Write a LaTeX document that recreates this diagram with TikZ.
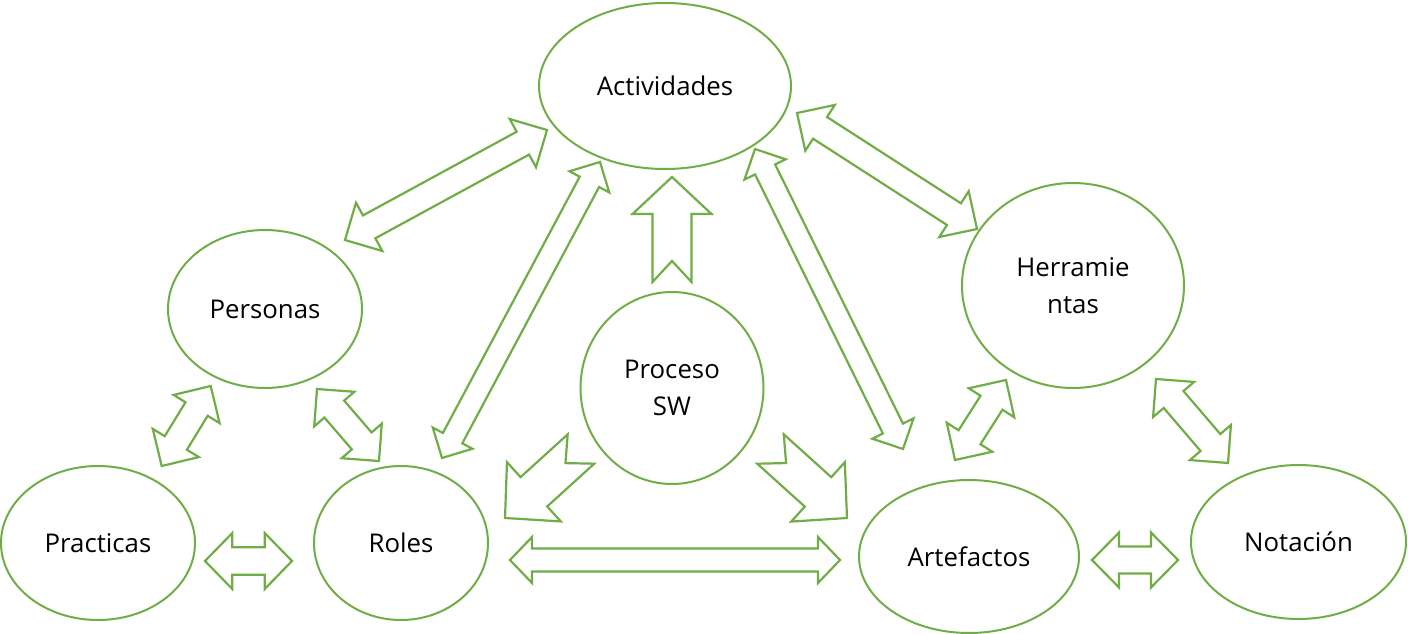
\documentclass[tikz,border=0pt]{standalone}
\usepackage{fontspec}
\setmainfont{Open Sans}
\usetikzlibrary{calc,shapes.geometric}
\definecolor{og}{HTML}{70AD47}
\tikzset{
 bub/.style={ellipse, draw=og, line width=2pt, inner sep=0pt, align=center, font=\fontsize{25.8}{37}\selectfont},
 barrow/.style={draw=og, line width=2.2pt, line join=miter}
}
% #1 tip A, #2 tip B, #3 shaft half width, #4 head half width, #5 head length
\newcommand\blockdbl[5]{%
 \coordinate (qa) at ($(#1)!#5!(#2)$);
 \coordinate (qb) at ($(#2)!#5!(#1)$);
 \draw[barrow] (#1) -- ($(qa)!#4!90:(#2)$) -- ($(qa)!#3!90:(#2)$) -- ($(qb)!#3!-90:(#1)$) -- ($(qb)!#4!-90:(#1)$) -- (#2) -- ($(qb)!#4!90:(#1)$) -- ($(qb)!#3!90:(#1)$) -- ($(qa)!#3!-90:(#2)$) -- ($(qa)!#4!-90:(#2)$) -- cycle;}
% #1 tail centre, #2 tip, #3 shaft half width, #4 head half width, #5 head length, #6 notch depth
\newcommand\blocksgl[6]{%
 \coordinate (qa) at ($(#2)!#5!(#1)$);
 \draw[barrow] (#2) -- ($(qa)!#4!90:(#1)$) -- ($(qa)!#3!90:(#1)$) -- ($(#1)!#3!-90:(#2)$) -- ($(#1)!#6!(#2)$) -- ($(#1)!#3!90:(#2)$) -- ($(qa)!#3!-90:(#1)$) -- ($(qa)!#4!-90:(#1)$) -- cycle;}
\begin{document}
\begin{tikzpicture}[x=1pt,y=-1pt]
\useasboundingbox (0,0) rectangle (1408,634);
% ellipses
\node[bub, minimum width=252pt, minimum height=166pt] (act) at (665,86) {Actividades};
\node[bub, minimum width=194pt, minimum height=158pt] (per) at (265,309) {Personas};
\node[bub, minimum width=222pt, minimum height=205pt] (her) at (1073,285.5) {Herramie\\ntas};
\node[bub, minimum width=183pt, minimum height=192pt] (pro) at (672,388) {Proceso\\SW};
\node[bub, minimum width=194pt, minimum height=154pt] (pra) at (98,543) {Practicas};
\node[bub, minimum width=174pt, minimum height=154pt] (rol) at (401,543) {Roles};
\node[bub, minimum width=220pt, minimum height=153pt] (art) at (969,556.5) {Artefactos};
\node[bub, minimum width=215pt, minimum height=154pt] (not) at (1298.5,542) {Notación};
% double arrow end points
\coordinate (pa1) at (345,240);   \coordinate (pa2) at (547,130);
\coordinate (ha1) at (797,113);   \coordinate (ha2) at (977,229);
\coordinate (ar1) at (442,458);   \coordinate (ar2) at (600,162);
\coordinate (aa1) at (755,149);   \coordinate (aa2) at (903,449);
\coordinate (pp1) at (161.7,466); \coordinate (pp2) at (210.7,386);
\coordinate (pr1) at (317,389);   \coordinate (pr2) at (379,461);
\coordinate (hr1) at (955,460);   \coordinate (hr2) at (1006,380);
\coordinate (hn1) at (1156,379);  \coordinate (hn2) at (1228,463);
\coordinate (rr1) at (205,561);   \coordinate (rr2) at (292,561);
\coordinate (ra1) at (510,560);   \coordinate (ra2) at (840,560);
\coordinate (an1) at (1092,560);  \coordinate (an2) at (1178,560);
\blockdbl{pa1}{pa2}{13pt}{27.5pt}{27.5pt}
\blockdbl{ha1}{ha2}{12.9pt}{27.2pt}{27.4pt}
\blockdbl{ar1}{ar2}{11pt}{22.5pt}{22.5pt}
\blockdbl{aa1}{aa2}{11.2pt}{23pt}{22.8pt}
\blockdbl{pp1}{pp2}{13pt}{27pt}{27pt}
\blockdbl{pr1}{pr2}{13pt}{26.5pt}{26.5pt}
\blockdbl{hr1}{hr2}{13pt}{27pt}{27pt}
\blockdbl{hn1}{hn2}{13pt}{27pt}{27pt}
\blockdbl{rr1}{rr2}{13.7pt}{28pt}{27.3pt}
\blockdbl{ra1}{ra2}{11.5pt}{23pt}{22pt}
\blockdbl{an1}{an2}{13.5pt}{27.5pt}{27pt}
% single arrows from Proceso SW
\coordinate (up1) at (672,282);   \coordinate (up2) at (672,177);
\coordinate (dl1) at (581,449);   \coordinate (dl2) at (505,518);
\coordinate (dr1) at (770.5,449); \coordinate (dr2) at (847,518);
\blocksgl{up1}{up2}{19.5pt}{39.5pt}{37pt}{21pt}
\blocksgl{dl1}{dl2}{19.8pt}{40pt}{39pt}{21pt}
\blocksgl{dr1}{dr2}{19.8pt}{40pt}{39pt}{21pt}
\end{tikzpicture}
\end{document}
